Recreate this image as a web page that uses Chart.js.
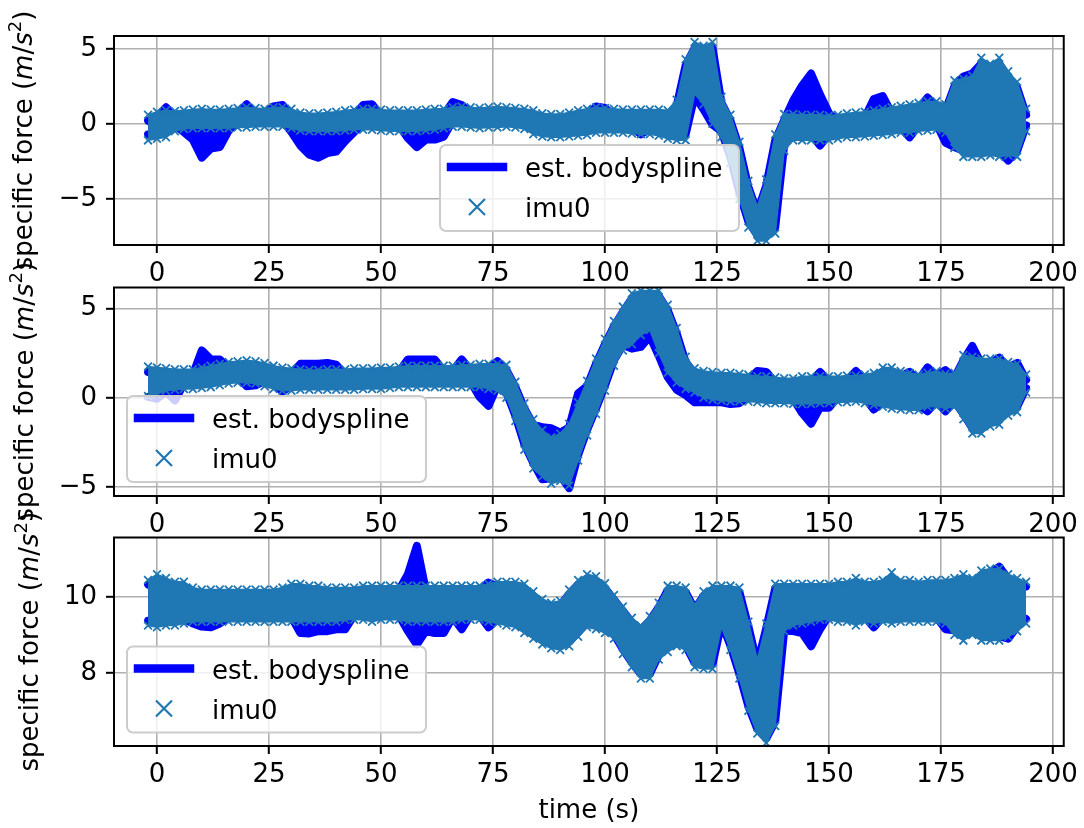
<!DOCTYPE html>
<html><head><meta charset="utf-8">
<script src="https://cdn.jsdelivr.net/npm/chart.js@4/dist/chart.umd.min.js"></script>
<style>
html,body{margin:0;padding:0;background:#fff;}
#wrap{position:relative;width:1084px;height:828px;overflow:hidden;}
canvas{position:absolute;left:0;top:0;}
</style></head><body>
<div id="wrap">
<canvas id="c1" width="1084" height="828" style="width:1084px;height:828px"></canvas>
<canvas id="c2" width="1084" height="828" style="width:1084px;height:828px"></canvas>
<canvas id="c3" width="1084" height="828" style="width:1084px;height:828px"></canvas>
</div>
<script>
// ---------- data (envelopes of the dense signals) ----------
const time = [-2,0,2,4,6,8,10,12,14,16,18,20,22,24,26,28,30,32,34,36,38,40,42,44,46,48,50,52,54,56,58,60,62,64,66,68,70,72,74,76,78,80,82,84,86,88,90,92,94,96,98,100,102,104,106,108,110,112,114,116,118,120,122,124,126,128,130,132,134,136,138,140,142,144,146,148,150,152,154,156,158,160,162,164,166,168,170,172,174,176,178,180,182,184,186,188,190,192,194];

// subplot 1
const imuHi1 = [0.6,0.8,0.9,0.85,0.9,0.95,1.0,0.95,0.95,1.0,
 1.05,1.1,1.05,1.0,1.1,1.1,1.0,0.75,0.7,0.7,
 0.75,0.8,0.9,0.95,1.0,1.0,0.95,0.9,0.9,0.9,
 0.9,0.95,1.0,1.0,1.1,1.15,1.1,1.05,1.1,1.15,
 1.1,1.05,1.0,0.9,0.7,0.65,0.65,0.75,0.9,1.0,
 1.1,1.05,1.0,0.95,0.95,0.95,0.95,0.95,0.9,1.6,
 4.3,5.45,5.2,5.45,1.8,0.6,-1.2,-3.8,-5.5,-3.7,
 -0.7,0.65,0.65,0.6,0.6,0.6,0.55,0.6,0.7,0.75,
 0.8,0.9,1.0,1.1,1.2,1.3,1.4,1.5,1.5,1.3,
 2.9,3.0,3.2,4.4,4.0,4.4,3.5,2.8,1.0];
const imuLo1 = [-1.1,-1.0,-0.9,-0.5,-0.35,-0.3,-0.3,-0.3,-0.3,-0.3,
 -0.25,-0.25,-0.2,-0.2,-0.2,-0.2,-0.3,-0.45,-0.5,-0.5,
 -0.5,-0.5,-0.45,-0.4,-0.4,-0.4,-0.45,-0.5,-0.5,-0.5,
 -0.5,-0.45,-0.4,-0.3,-0.2,-0.2,-0.25,-0.3,-0.25,-0.25,
 -0.2,-0.25,-0.35,-0.7,-0.85,-0.9,-0.9,-0.85,-0.8,-0.75,
 -0.6,-0.6,-0.6,-0.6,-0.65,-0.7,-0.7,-0.8,-1.0,-1.1,
 -1.1,2.0,1.3,0.0,-0.9,-2.6,-5.0,-6.9,-7.8,-7.8,
 -7.3,-1.8,-1.1,-1.1,-1.1,-1.1,-1.1,-1.0,-0.9,-0.9,
 -0.85,-0.8,-0.75,-0.7,-0.6,-0.6,-0.5,-0.45,-0.4,-0.6,
 -1.6,-2.2,-2.2,-2.2,-2.1,-2.2,-2.1,-2.2,-0.5];
const splineHi1 = [0.2,0.4,1.1,0.45,0.5,0.55,0.6,0.55,0.55,0.6,
 0.65,1.3,0.65,0.6,1.15,1.25,0.6,0.35,0.3,0.3,
 0.35,0.4,0.5,0.55,1.25,1.3,0.55,0.5,0.5,0.5,
 0.5,0.55,0.6,0.6,1.45,1.25,0.7,0.65,0.7,0.75,
 0.7,0.65,0.6,0.5,0.3,0.25,0.25,0.35,0.5,0.6,
 1.15,1.05,0.6,0.55,0.55,0.55,0.55,0.55,0.5,1.2,
 3.9,5.05,4.8,5.05,1.4,0.2,-1.6,-4.2,-5.9,-4.1,
 -1.1,0.25,1.55,2.55,3.35,1.95,0.7,0.2,0.3,0.35,
 0.4,1.65,1.85,0.7,0.8,0.9,1.0,1.75,1.1,0.9,
 2.5,3.15,3.35,4.0,3.6,4.0,3.1,2.4,0.6];
const splineLo1 = [-0.7,-0.6,-0.5,-0.1,-0.55,-1.05,-2.25,-1.65,-1.55,-0.45,
 0.15,0.15,0.2,0.2,0.2,0.2,-0.55,-1.45,-2.05,-2.25,
 -1.95,-1.85,-1.15,-0.55,0.0,0.0,-0.05,-0.1,-0.1,-0.95,
 -1.55,-1.05,-1.05,-0.85,0.2,0.2,0.15,0.1,0.15,0.15,
 0.2,0.15,0.05,-0.3,-0.45,-0.5,-0.5,-0.45,-0.4,-0.35,
 -0.2,-0.2,-0.2,-0.2,-0.25,-0.7,-0.3,-0.4,-0.6,-0.7,
 -0.7,1.85,0.95,-0.05,-0.5,-2.2,-4.6,-6.5,-7.4,-7.4,
 -6.9,-1.4,-0.7,-0.7,-0.7,-1.45,-0.7,-0.6,-0.5,-0.5,
 -0.45,-0.4,-0.35,-0.3,-0.2,-0.9,-0.1,-0.05,0.0,-1.25,
 -1.55,-1.8,-1.8,-1.8,-1.7,-1.8,-2.45,-1.8,-0.1];

// subplot 2
const imuHi2 = [1.75,1.7,1.65,1.6,1.6,1.6,1.7,1.8,1.9,2.0,
 2.05,2.1,2.05,1.95,1.8,1.7,1.65,1.6,1.55,1.55,
 1.6,1.6,1.6,1.65,1.65,1.65,1.7,1.7,1.75,1.8,
 1.8,1.8,1.8,1.8,1.8,1.85,1.85,1.9,1.9,1.9,
 1.85,0.9,-0.3,-1.2,-1.8,-2.2,-2.0,-1.45,-0.25,0.95,
 2.2,3.3,4.3,5.1,5.85,6.0,6.0,6.0,5.2,3.9,
 2.3,1.65,1.5,1.45,1.4,1.4,1.35,1.3,1.2,1.2,
 1.15,1.1,1.1,1.2,1.2,1.2,1.2,1.2,1.25,1.25,
 1.3,1.4,1.7,1.7,1.5,1.4,1.3,1.4,1.5,1.35,
 1.4,2.4,2.3,2.2,2.2,2.2,2.0,1.9,1.3];
const imuLo2 = [0.1,0.2,0.4,0.45,0.5,0.5,0.55,0.6,0.7,0.8,
 0.85,0.85,0.8,0.65,0.5,0.4,0.4,0.45,0.45,0.45,
 0.45,0.45,0.45,0.45,0.5,0.5,0.5,0.55,0.6,0.6,
 0.6,0.6,0.6,0.6,0.6,0.6,0.6,0.6,0.5,0.4,
 0.0,-1.3,-2.9,-3.95,-4.4,-4.8,-4.65,-4.9,-3.5,-2.1,
 -0.9,0.4,1.8,2.65,3.0,3.5,3.8,2.5,1.4,0.85,
 0.5,0.3,0.0,-0.1,-0.15,-0.2,-0.2,-0.2,-0.25,-0.3,
 -0.3,-0.3,-0.35,-0.35,-0.35,-0.3,-0.3,-0.25,-0.25,-0.2,
 -0.3,-0.4,-0.5,-0.6,-0.65,-0.7,-0.7,-0.5,-0.5,-0.6,
 -0.5,-1.2,-2.0,-2.0,-1.6,-1.5,-1.0,-0.8,0.3];
const splineHi2 = [1.45,1.4,1.35,1.3,1.3,1.3,2.65,2.15,2.15,1.7,
 1.75,1.8,1.75,1.65,1.5,1.4,1.35,1.9,1.9,1.9,
 1.95,1.85,1.3,1.35,1.35,1.35,1.4,1.4,1.45,2.15,
 2.15,2.15,2.15,1.5,1.5,2.15,1.55,1.6,1.6,2.05,
 1.55,0.6,-0.6,-1.5,-1.65,-1.7,-1.95,-1.65,0.25,0.65,
 1.9,3.0,4.0,4.8,5.55,5.7,5.7,5.7,4.9,3.6,
 2.0,1.35,1.2,1.15,1.1,1.1,1.05,1.0,1.5,1.45,
 0.85,0.8,0.8,0.9,0.9,1.45,0.9,0.9,0.95,1.5,
 1.0,1.1,1.4,1.4,1.2,1.45,1.0,1.7,1.2,1.55,
 1.1,2.1,2.9,1.9,1.9,2.25,1.7,1.95,1.0];
const splineLo2 = [0.05,-0.05,0.35,-0.15,0.8,0.8,0.85,0.9,1.0,1.1,
 1.15,0.65,0.7,0.95,0.8,0.35,0.7,0.75,0.75,0.75,
 0.75,0.75,0.75,0.75,0.8,0.8,0.8,0.85,0.9,0.9,
 0.9,0.9,0.9,0.9,0.9,0.9,0.9,0.05,-0.45,0.7,
 0.3,-1.0,-2.6,-3.65,-4.55,-4.5,-4.35,-5.05,-3.2,-1.8,
 -0.6,0.7,2.1,2.95,2.75,2.85,3.45,2.35,1.15,0.45,
 0.15,-0.25,-0.25,-0.25,-0.25,-0.35,-0.3,0.1,0.05,0.0,
 0.0,0.0,-0.05,-0.85,-1.45,-0.55,-0.55,0.05,0.05,0.1,
 0.0,-0.65,-0.2,-0.3,-0.35,-0.4,-0.4,-0.75,-0.2,-0.75,
 -0.2,-0.9,-1.7,-1.7,-1.3,-1.2,-0.7,-0.5,0.55];

// subplot 3
const imuHi3 = [10.45,10.6,10.5,10.4,10.4,10.25,10.2,10.2,10.2,10.2,
 10.2,10.2,10.2,10.2,10.2,10.25,10.35,10.35,10.3,10.3,
 10.25,10.25,10.25,10.25,10.3,10.3,10.3,10.3,10.3,10.3,
 10.3,10.3,10.3,10.3,10.3,10.3,10.3,10.3,10.35,10.4,
 10.4,10.4,10.35,10.15,9.95,9.85,9.9,10.2,10.45,10.6,
 10.55,10.36,10.05,9.75,9.45,9.25,9.5,9.85,10.3,10.3,
 10.25,9.8,10.15,10.3,10.3,10.3,10.25,9.35,8.35,9.3,
 10.35,10.35,10.35,10.35,10.35,10.35,10.35,10.4,10.4,10.5,
 10.4,10.4,10.45,10.65,10.45,10.45,10.4,10.45,10.45,10.45,
 10.5,10.6,10.5,10.7,10.75,10.75,10.6,10.5,10.4];
const imuLo3 = [9.25,9.2,9.25,9.25,9.3,9.35,9.35,9.35,9.35,9.35,
 9.35,9.35,9.35,9.35,9.35,9.35,9.35,9.35,9.35,9.35,
 9.35,9.35,9.4,9.4,9.4,9.35,9.4,9.4,9.4,9.35,
 9.35,9.35,9.35,9.35,9.35,9.4,9.4,9.4,9.35,9.3,
 9.25,9.2,9.05,8.9,8.75,8.65,8.6,8.7,8.95,9.2,
 9.15,9.05,8.9,8.5,8.15,7.85,7.85,8.35,8.55,8.7,
 8.6,8.15,8.1,8.1,9.2,8.6,7.85,7.0,6.4,6.15,
 6.6,9.1,9.25,9.3,9.35,9.4,9.4,9.35,9.35,9.25,
 9.35,9.3,9.35,9.3,9.35,9.35,9.35,9.35,9.35,9.3,
 9.0,8.85,9.0,8.85,8.85,8.85,8.95,9.1,9.3];
const splineHi3 = [10.33,10.45,10.38,10.28,10.28,10.13,10.08,10.08,10.08,10.08,
 10.08,10.08,10.08,10.08,10.08,10.13,10.23,10.23,10.18,10.18,
 10.13,10.13,10.13,10.13,10.18,10.18,10.18,10.18,10.18,10.6,
 11.35,10.18,10.18,10.18,10.18,10.18,10.18,10.18,10.38,10.28,
 10.28,10.28,10.23,10.03,9.83,9.73,9.78,10.08,10.33,10.45,
 10.43,10.23,9.93,9.63,9.33,9.13,9.38,9.73,10.18,10.18,
 10.13,9.68,10.03,10.18,10.18,10.18,10.13,9.23,8.23,9.18,
 10.23,10.23,10.23,10.23,10.23,10.23,10.23,10.28,10.28,10.33,
 10.28,10.28,10.33,10.48,10.33,10.33,10.28,10.33,10.33,10.33,
 10.38,10.48,10.38,10.53,10.63,10.8,10.48,10.38,10.28];
const splineLo3 = [9.37,9.32,9.37,9.37,9.42,9.3,9.22,9.2,9.3,9.47,
 9.47,9.47,9.47,9.47,9.47,9.47,9.47,9.05,9.04,9.1,
 9.1,9.15,9.15,9.52,9.52,9.47,9.52,9.52,9.52,9.1,
 8.75,9.1,9.05,9.05,9.47,9.15,9.52,9.52,9.2,9.42,
 9.37,9.32,9.17,9.02,8.87,8.77,8.72,8.82,9.07,9.32,
 9.27,9.17,9.02,8.62,8.27,7.97,7.97,8.47,8.67,8.82,
 8.72,8.27,8.22,8.22,9.32,8.72,7.97,7.12,6.52,6.27,
 6.72,9.12,9.1,9.05,8.7,9.15,9.52,9.47,9.47,9.37,
 9.47,9.2,9.47,9.42,9.47,9.47,9.47,9.47,9.47,9.15,
 9.12,8.97,9.12,8.97,8.97,8.97,8.9,9.22,9.42];

// ticks and texts
const xTicks = [0,25,50,75,100,125,150,175,200];
const yTicks1 = [-5,0,5];
const yTicks2 = [-5,0,5];
const yTicks3 = [8,10];
const seriesNames = ['est. bodyspline','imu0'];
const xLabel = 'time (s)';
// y label "specific force (m/s²)" in pieces: [text, style]
const yLabelParts = [['specific force (','n'],['m','i'],['/','n'],['s','i'],['2','sup'],[')','n']];

// ---------- drawing ----------
const FONT = '"DejaVu Sans"';
Chart.defaults.font.family = FONT;
Chart.defaults.color = '#000';

function pts(ys){ return time.map((t,i)=>({x:t, y:ys[i]})); }
function fmtTick(v){ return v < 0 ? '\u2212' + Math.abs(v) : String(v); }

function drawYLabel(ctx, bx, cy){
  const fonts = {n:'26px '+FONT, i:'italic 26px '+FONT, sup:'18px '+FONT};
  ctx.save();
  let total = 0;
  const w = yLabelParts.map(([t,s])=>{ ctx.font = fonts[s]; const m = ctx.measureText(t).width; total += m; return m; });
  ctx.translate(bx, cy);
  ctx.rotate(-Math.PI/2);
  ctx.fillStyle = '#000';
  ctx.textBaseline = 'alphabetic';
  ctx.textAlign = 'left';
  let x = -total/2;
  yLabelParts.forEach(([t,s],k)=>{
    ctx.font = fonts[s];
    ctx.fillText(t, x, s==='sup' ? -11 : 0);
    x += w[k];
  });
  ctx.restore();
}

const framePlugin = {
  id: 'frame',
  afterDatasetsDraw(chart){
    const {ctx, chartArea:a} = chart;
    ctx.save(); ctx.strokeStyle = '#000'; ctx.lineWidth = 2;
    ctx.strokeRect(a.left, a.top, a.right-a.left, a.bottom-a.top);
    ctx.restore();
  }
};

const decorPlugin = {
  id: 'decor',
  afterDraw(chart, args, o){
    const ctx = chart.ctx;
    const {x, y, w, h} = o.legend;
    ctx.save();
    ctx.beginPath();
    if (ctx.roundRect) ctx.roundRect(x, y, w, h, 6); else ctx.rect(x, y, w, h);
    ctx.fillStyle = 'rgba(255,255,255,0.8)'; ctx.fill();
    ctx.strokeStyle = '#cccccc'; ctx.lineWidth = 2; ctx.stroke();
    const hx = x + 11, hl = 52;
    ctx.strokeStyle = chart.data.datasets[2].borderColor; ctx.lineWidth = 8.5; ctx.lineCap = 'square';
    ctx.beginPath(); ctx.moveTo(hx, y+22); ctx.lineTo(hx+hl, y+22); ctx.stroke();
    const mx = hx + hl/2, my = y + 62, r = 8;
    ctx.strokeStyle = chart.data.datasets[0].borderColor; ctx.lineWidth = 2.2; ctx.lineCap = 'butt';
    ctx.beginPath(); ctx.moveTo(mx-r,my-r); ctx.lineTo(mx+r,my+r); ctx.moveTo(mx-r,my+r); ctx.lineTo(mx+r,my-r); ctx.stroke();
    ctx.fillStyle = '#000'; ctx.font = '26px '+FONT; ctx.textBaseline = 'alphabetic'; ctx.textAlign = 'left';
    ctx.fillText(chart.data.datasets[2].label, hx+hl+22, y+32);
    ctx.fillText(chart.data.datasets[0].label, hx+hl+22, y+72);
    ctx.restore();
    const a = chart.chartArea;
    drawYLabel(ctx, o.ylabelX, (a.top + a.bottom)/2);
    if (o.xlabel){
      ctx.save(); ctx.fillStyle = '#000'; ctx.font = '26px '+FONT;
      ctx.textAlign = 'center'; ctx.textBaseline = 'middle';
      ctx.fillText(xLabel, (a.left + a.right)/2, o.xlabelY);
      ctx.restore();
    }
  }
};

function makeChart(id, p){
  const imuStyle = {borderColor:'#1f77b4', backgroundColor:'#1f77b4', borderWidth:1.5,
    pointStyle:'crossRot', pointRadius:5.5, pointBorderWidth:1.8, pointBorderColor:'#1f77b4',
    pointBackgroundColor:'#1f77b4', tension:0, order:0};
  const bsStyle = {borderColor:'#0000ff', backgroundColor:'#0000ff', borderWidth:8,
    borderJoinStyle:'round', borderCapStyle:'round', pointRadius:0, tension:0, order:1};
  return new Chart(document.getElementById(id), {
    type:'line',
    data:{ datasets:[
      Object.assign({label:seriesNames[1], data:pts(p.imuHi), fill:'+1'}, imuStyle),
      Object.assign({label:seriesNames[1]+' ', data:pts(p.imuLo), fill:false}, imuStyle),
      Object.assign({label:seriesNames[0], data:pts(p.bsHi), fill:'+1'}, bsStyle),
      Object.assign({label:seriesNames[0]+' ', data:pts(p.bsLo), fill:false}, bsStyle)
    ]},
    options:{
      responsive:false, maintainAspectRatio:false, animation:false, devicePixelRatio:1, events:[],
      layout:{padding:{left:0, right:1084-1066, top:p.top, bottom:828 - p.bottom - 70}},
      plugins:{ legend:{display:false}, tooltip:{enabled:false},
        decor:{legend:p.legend, ylabelX:p.ylabelX, xlabel:p.xlabel, xlabelY:811} },
      scales:{
        x:{ type:'linear', min:-9.6, max:202.4,
          afterBuildTicks:s=>{ s.ticks = xTicks.map(v=>({value:v})); },
          afterFit:s=>{ s.height = 70; },
          grid:{color:'#b0b0b0', lineWidth:1.6, tickColor:'#000', tickWidth:2, tickLength:8, drawTicks:true},
          border:{display:false},
          ticks:{color:'#000', font:{size:26}, padding:6, maxRotation:0, autoSkip:false, callback:v=>fmtTick(v)}
        },
        y:{ type:'linear', min:p.yMin, max:p.yMax,
          afterBuildTicks:s=>{ s.ticks = p.yTicks.map(v=>({value:v})); },
          afterFit:s=>{ s.width = 114; },
          grid:{color:'#b0b0b0', lineWidth:1.6, tickColor:'#000', tickWidth:2, tickLength:8, drawTicks:true},
          border:{display:false},
          ticks:{color:'#000', font:{size:26}, padding:9, autoSkip:false, callback:v=>fmtTick(v)}
        }
      }
    },
    plugins:[framePlugin, decorPlugin]
  });
}

makeChart('c1', {imuHi:imuHi1, imuLo:imuLo1, bsHi:splineHi1, bsLo:splineLo1,
  yMin:-8.07, yMax:5.85, yTicks:yTicks1, top:36, bottom:245,
  legend:{x:440, y:145, w:299, h:86}, ylabelX:32, xlabel:false});
makeChart('c2', {imuHi:imuHi2, imuLo:imuLo2, bsHi:splineHi2, bsLo:splineLo2,
  yMin:-5.49, yMax:6.17, yTicks:yTicks2, top:287.5, bottom:496,
  legend:{x:127, y:396, w:299, h:86}, ylabelX:33, xlabel:false});
makeChart('c3', {imuHi:imuHi3, imuLo:imuLo3, bsHi:splineHi3, bsLo:splineLo3,
  yMin:6.07, yMax:11.57, yTicks:yTicks3, top:537.5, bottom:746,
  legend:{x:127, y:646.5, w:299, h:86}, ylabelX:38, xlabel:true});
</script>
</body></html>
